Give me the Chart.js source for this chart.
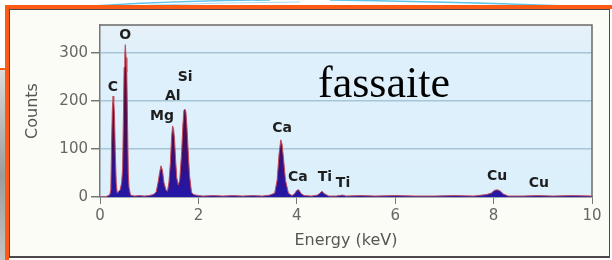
<!DOCTYPE html>
<html>
<head>
<meta charset="utf-8">
<script src="https://cdn.jsdelivr.net/npm/chart.js@4"></script>
<style>
html,body{margin:0;padding:0;background:#fff;}
#stage{position:relative;width:612px;height:260px;overflow:hidden;background:#fff;}
#leftshade{position:absolute;left:0;top:70px;width:6px;height:190px;background:linear-gradient(#dcdcdc,#9c9c9c 55%,#c4c4c4);}
#orangetick{position:absolute;left:0;top:68px;width:8px;height:2px;background:#ff5a14;}
#frame{position:absolute;left:5px;top:5px;width:620px;height:270px;border:4px solid #ff5a14;box-sizing:border-box;}
#panel{position:absolute;left:9px;top:9px;width:601px;height:249px;box-sizing:border-box;border:1px solid #4a4a4a;border-bottom-width:2px;background:#fbfcf5;}
#deco,#chart{position:absolute;left:0;top:0;}
</style>
</head>
<body>
<div id="stage">
  <svg id="deco" width="612" height="12">
    <path d="M0,14 Q120,1 270,0" fill="none" stroke="#5ec3ea" stroke-width="1.5"/>
    <path d="M20,12 Q150,3 300,2" fill="none" stroke="#a8dcf2" stroke-width="1"/>
    <path d="M330,0 Q480,2 612,8" fill="none" stroke="#5ec3ea" stroke-width="1.5"/>
  </svg>
  <div id="leftshade"></div>
  <div id="orangetick"></div>
  <div id="frame"></div>
  <div id="panel"></div>
  <canvas id="chart" width="612" height="260"></canvas>
</div>
<script>
// spectrum (keV, counts)
const energy = [
  0.0, 0.1, 0.15, 0.2,
  0.22, 0.235, 0.25, 0.265, 0.28, 0.295, 0.31, 0.33, 0.35, 0.38, 0.41,
  0.44, 0.46, 0.475, 0.49, 0.505, 0.515, 0.53, 0.545, 0.56, 0.575, 0.59, 0.62,
  0.7, 0.8, 0.9, 1.0, 1.08,
  1.14, 1.18, 1.21, 1.24, 1.27, 1.30, 1.34, 1.37,
  1.40, 1.43, 1.455, 1.475, 1.495, 1.515, 1.535, 1.56, 1.59,
  1.62, 1.66, 1.685, 1.705, 1.725, 1.745, 1.765, 1.79, 1.82, 1.86, 1.9, 2.0, 2.1, 2.3, 2.5, 2.7, 2.9, 3.1, 3.3, 3.45,
  3.55, 3.60, 3.64, 3.675, 3.70, 3.73, 3.77, 3.83, 3.9,
  3.95, 4.0, 4.04, 4.09, 4.15, 4.3, 4.42,
  4.47, 4.51, 4.56, 4.65, 4.8, 4.93, 5.0, 5.3, 5.6, 6.0, 6.4, 6.8, 7.2, 7.6, 7.85,
  7.95, 8.02, 8.08, 8.14, 8.2, 8.3, 8.6, 8.9, 9.2, 9.6, 10.0
];
const counts = [
  0, 0, 2, 5,
  15, 110, 180, 210, 200, 170, 95, 30, 8, 12, 15,
  30, 60, 160, 270, 300, 317, 290, 260, 150, 50, 20, 4,
  2, 3, 2, 3, 5,
  10, 30, 50, 65, 55, 30, 15, 12,
  30, 70, 125, 148, 142, 120, 80, 40, 25,
  35, 95, 150, 180, 183, 178, 150, 100, 45, 10, 5, 3, 2, 3, 2, 3, 2, 3, 2, 4,
  8, 35, 90, 119, 110, 80, 35, 8, 3,
  6, 14, 15, 7, 3, 2, 4,
  8, 12, 7, 2, 2, 4, 2, 3, 2, 3, 2, 2, 3, 2, 5,
  8, 14, 15, 12, 6, 2, 2, 3, 2, 3, 2
];

// element labels: name, energy (keV), height (counts) where the label sits
const peakNames = ["C", "O", "Mg", "Al", "Si", "Ca", "Ca", "Ti", "Ti", "Cu", "Cu"];
const peakEnergy = [0.26, 0.51, 1.26, 1.48, 1.73, 3.70, 4.02, 4.57, 4.94, 8.07, 8.92];
const peakLabelCounts = [229, 337, 167, 210, 250, 142, 40, 40, 29, 42, 29];

const xTicks = [0, 2, 4, 6, 8, 10];
const yTicks = [0, 100, 200, 300];

const fontFam = "'DejaVu Sans', sans-serif";

const plotBg = {
  id: "plotBg",
  beforeDraw(chart) {
    const a = chart.chartArea;
    const c = chart.ctx;
    const g = c.createLinearGradient(0, a.top, 0, a.bottom);
    g.addColorStop(0, "#e7f1f8");
    g.addColorStop(0.2, "#def0fb");
    g.addColorStop(1, "#dcf0fc");
    c.save();
    c.fillStyle = g;
    c.fillRect(a.left, a.top, a.right - a.left, a.bottom - a.top);
    c.restore();
  },
  afterDatasetsDraw(chart) {
    const a = chart.chartArea;
    const c = chart.ctx;
    c.save();
    c.strokeStyle = "#6a6a6a";
    c.lineWidth = 1.5;
    c.beginPath();
    c.moveTo(a.left, a.top);
    c.lineTo(a.right, a.top);
    c.lineTo(a.right, a.bottom);
    c.stroke();

    const xs = chart.scales.x, ys = chart.scales.y;
    c.fillStyle = "#1e1e1e";
    c.font = "bold 14px " + fontFam;
    c.textAlign = "center";
    c.textBaseline = "middle";
    peakNames.forEach((n, i) => {
      c.fillText(n, xs.getPixelForValue(peakEnergy[i]), ys.getPixelForValue(peakLabelCounts[i]));
    });

    c.fillStyle = "#000";
    c.font = "44px 'Liberation Serif', serif";
    c.textAlign = "left";
    c.textBaseline = "alphabetic";
    c.fillText("fassaite", 318, 97);
    c.restore();
  }
};

new Chart(document.getElementById("chart"), {
  type: "line",
  data: {
    datasets: [{
      data: energy.map((e, i) => ({x: e, y: counts[i]})),
      fill: "origin",
      borderColor: "#c24a5a",
      borderWidth: 1,
      pointRadius: 0,
      tension: 0,
      backgroundColor: ctx => {
        const chart = ctx.chart;
        if (!chart.chartArea) return "#3a1590";
        const y = chart.scales.y;
        const g = chart.ctx.createLinearGradient(0, y.getPixelForValue(0), 0, y.getPixelForValue(320));
        g.addColorStop(0, "#2418a8");
        g.addColorStop(0.15, "#2e1290");
        g.addColorStop(0.38, "#4a0c52");
        g.addColorStop(1, "#5c0a30");
        return g;
      }
    }]
  },
  options: {
    responsive: false,
    animation: false,
    layout: {padding: {top: 25, right: 20, left: 0, bottom: 0}},
    plugins: {legend: {display: false}, tooltip: {enabled: false}},
    scales: {
      x: {
        type: "linear",
        min: 0,
        max: 10,
        afterBuildTicks: s => { s.ticks = xTicks.map(v => ({value: v})); },
        afterFit: s => { s.height = 63; },
        grid: {drawOnChartArea: false, tickLength: 7, color: "#777"},
        border: {color: "#777", width: 1.5},
        ticks: {color: "#666", font: {family: fontFam, size: 15}, padding: 3, maxRotation: 0},
        title: {display: true, text: "Energy (keV)", color: "#555", font: {family: fontFam, size: 16}, padding: {top: 0, bottom: 10}}
      },
      y: {
        min: 0,
        max: 358,
        afterBuildTicks: s => { s.ticks = yTicks.map(v => ({value: v})); },
        afterFit: s => { s.width = 100; },
        grid: {color: "#a6c6d8", lineWidth: 1.5, tickColor: "#777", tickLength: 9},
        border: {color: "#777", width: 1.5},
        ticks: {color: "#666", font: {family: fontFam, size: 15}, padding: 3},
        title: {display: true, text: "Counts", color: "#555", font: {family: fontFam, size: 16}, padding: {top: 23, bottom: 0}}
      }
    }
  },
  plugins: [plotBg]
});
</script>
</body>
</html>
